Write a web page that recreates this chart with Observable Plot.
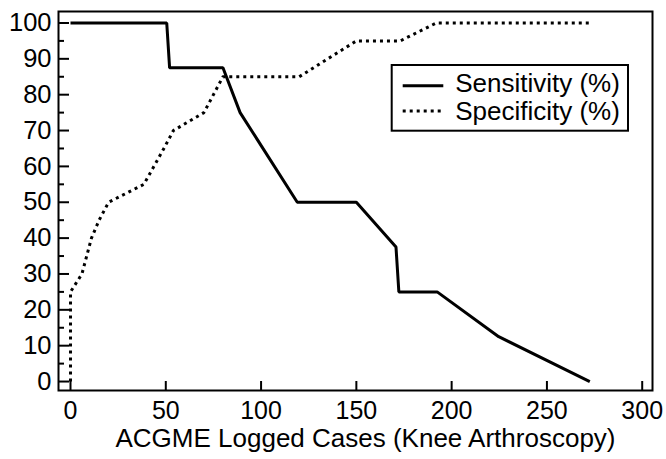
<!DOCTYPE html>
<html><head><meta charset="utf-8">
<script src="https://cdn.jsdelivr.net/npm/d3@7"></script>
<script src="https://cdn.jsdelivr.net/npm/@observablehq/plot@0.6"></script>
<style>body{margin:0;background:#fff} svg{display:block}</style>
</head><body><div id="chart"></div>
<script>
const sensX = [0, 50.5, 52, 80, 89, 119, 150, 170.8, 172.3, 192.4, 224.7, 272.5];
const sensY = [100, 100, 87.5, 87.5, 75, 50, 50, 37.5, 25, 25, 12.5, 0];
const specX = [0, 0, 6, 11, 15, 20, 38.5, 49, 54, 70, 80, 120, 150, 173, 192, 272.5];
const specY = [0, 25, 30, 40, 45, 50, 55, 65, 70, 75, 85, 85, 95, 95, 100, 100];
const seriesNames = ["Sensitivity (%)", "Specificity (%)"];
const xTicks = [0, 50, 100, 150, 200, 250, 300];
const yTicks = [0, 10, 20, 30, 40, 50, 60, 70, 80, 90, 100];
const yMinor = [5, 15, 25, 35, 45, 55, 65, 75, 85, 95];
const xTitle = "ACGME Logged Cases (Knee Arthroscopy)";

const sens = sensX.map((x, i) => ({x, y: sensY[i]}));
const spec = specX.map((x, i) => ({x, y: specY[i]}));
const FONT = "'Liberation Sans', Arial, Helvetica, sans-serif";
const W = 666, H = 459, ML = 58, MR = 14, MT = 11, MB = 69;
const FW = W - ML - MR, FH = H - MT - MB;

const legendMark = (index, scales, values, dim) => {
  const g = d3.create("svg:g");
  const fr = dim.width - dim.marginRight;
  const ft = dim.marginTop;
  const bx = fr - 260.3, by = ft + 54;
  g.append("rect").attr("x", bx).attr("y", by).attr("width", 236.3).attr("height", 65.7)
    .attr("fill", "white").attr("stroke", "black").attr("stroke-width", 2);
  const rows = [
    {name: seriesNames[0], ly: by + 20.7, ty: by + 26.7, dash: null},
    {name: seriesNames[1], ly: by + 46, ty: by + 55, dash: "3,4"}
  ];
  for (const r of rows) {
    g.append("line").attr("x1", bx + 11).attr("x2", bx + 51.6).attr("y1", r.ly).attr("y2", r.ly)
      .attr("stroke", "black").attr("stroke-width", 3).attr("stroke-linecap", "butt")
      .attr("stroke-dasharray", r.dash);
    g.append("text").attr("x", bx + 63.5).attr("y", r.ty)
      .attr("text-anchor", "start")
      .style("font-size", "26px").style("font-family", FONT)
      .attr("fill", "black").text(r.name);
  }
  return g.node();
};

const chart = Plot.plot({
  width: W, height: H,
  marginLeft: ML, marginRight: MR, marginTop: MT, marginBottom: MB,
  style: {fontFamily: FONT, fontSize: "25px", color: "black", background: "white"},
  x: {domain: [-6.3, 305.4], label: null},
  y: {domain: [-2.5, 103.2], label: null},
  marks: [
    Plot.frame({strokeWidth: 2, stroke: "black"}),
    Plot.tickY(yTicks, {y: d => d, insetRight: FW - 11, stroke: "black", strokeWidth: 2}),
    Plot.tickY(yMinor, {y: d => d, insetRight: FW - 6, stroke: "black", strokeWidth: 2}),
    Plot.tickX(xTicks, {x: d => d, insetTop: FH - 9, stroke: "black", strokeWidth: 2}),
    Plot.axisY(yTicks, {tickSize: 0, tickPadding: 7, label: null, fontSize: 25.5}),
    Plot.axisX(xTicks, {tickSize: 0, tickPadding: 11, label: null, fontSize: 25}),
    Plot.line(sens, {x: "x", y: "y", stroke: "black", strokeWidth: 3, strokeLinejoin: "miter", strokeLinecap: "butt"}),
    Plot.line(spec, {x: "x", y: "y", stroke: "black", strokeWidth: 3, strokeDasharray: "3,4", strokeLinecap: "butt"}),
    Plot.text([xTitle], {text: d => d, frameAnchor: "bottom", dy: 48, dx: 10, lineAnchor: "middle", fontSize: 26, fill: "black"}),
    legendMark
  ]
});
document.getElementById("chart").appendChild(chart);
</script>
</body></html>
